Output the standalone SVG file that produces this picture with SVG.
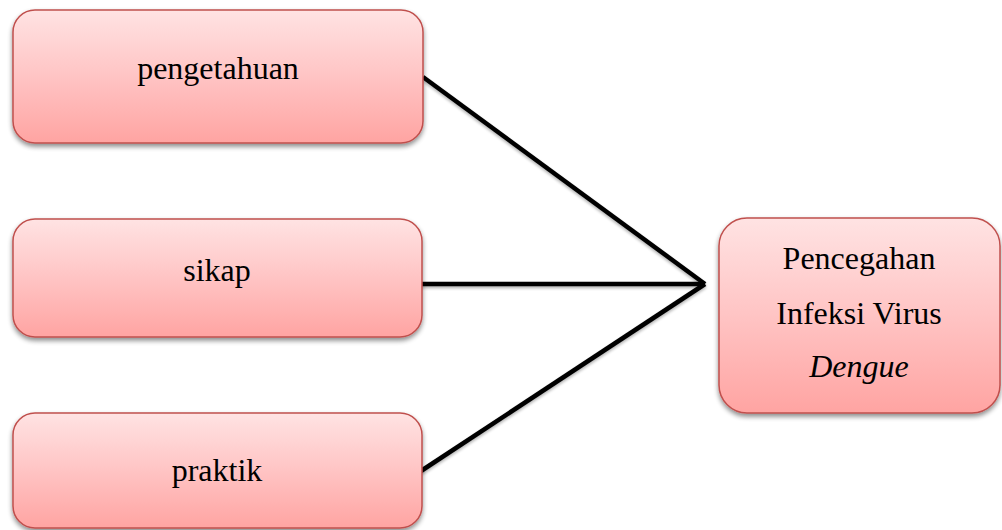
<svg xmlns="http://www.w3.org/2000/svg" width="1002" height="530" viewBox="0 0 1002 530">
<defs>
<linearGradient id="g" x1="0" y1="0" x2="0" y2="1">
<stop offset="0" stop-color="#ffe3e3"/>
<stop offset="0.5" stop-color="#ffc4c4"/>
<stop offset="1" stop-color="#ffa4a2"/>
</linearGradient>
<filter id="sh" x="-10%" y="-10%" width="120%" height="130%">
<feGaussianBlur in="SourceAlpha" stdDeviation="2.5"/>
<feOffset dx="0" dy="3" result="b"/>
<feComponentTransfer><feFuncA type="linear" slope="0.45"/></feComponentTransfer>
<feMerge><feMergeNode/><feMergeNode in="SourceGraphic"/></feMerge>
</filter>
<filter id="lsh" x="-10%" y="-10%" width="120%" height="130%">
<feGaussianBlur in="SourceAlpha" stdDeviation="1.5"/>
<feOffset dx="0" dy="2" result="b"/>
<feComponentTransfer><feFuncA type="linear" slope="0.3"/></feComponentTransfer>
<feMerge><feMergeNode/><feMergeNode in="SourceGraphic"/></feMerge>
</filter>
</defs>
<style>
.box{fill:url(#g);stroke:#c0504d;stroke-width:1.5;filter:url(#sh)}
.t{font-size:32px;fill:#000;text-anchor:middle}
.c{stroke:#000;stroke-width:4.5;fill:none;stroke-linejoin:miter}
</style>
<rect width="1002" height="530" fill="#fff"/>
<g id="connectors" filter="url(#lsh)">
<line class="c" x1="423" y1="77" x2="705" y2="284"/>
<line class="c" x1="421" y1="284" x2="705" y2="284"/>
<line class="c" x1="421" y1="471" x2="705" y2="284"/>
</g>
<g font-family="'Liberation Serif', 'Times New Roman', serif">
<g id="pengetahuan">
<rect class="box" x="13" y="10" width="410" height="133" rx="22"/>
<text class="t" x="218" y="79">pengetahuan</text>
</g>
<g id="sikap">
<rect class="box" x="13" y="219" width="409" height="118" rx="22"/>
<text class="t" x="217" y="281">sikap</text>
</g>
<g id="praktik">
<rect class="box" x="13" y="413" width="409" height="115" rx="22"/>
<text class="t" x="217" y="481">praktik</text>
</g>
<g id="pencegahan">
<rect class="box" x="719" y="218" width="281" height="195" rx="28"/>
<text class="t" x="859" y="269">Pencegahan</text>
<text class="t" x="859" y="324">Infeksi Virus</text>
<text class="t" x="859" y="377" font-style="italic">Dengue</text>
</g>
</g>
</svg>
